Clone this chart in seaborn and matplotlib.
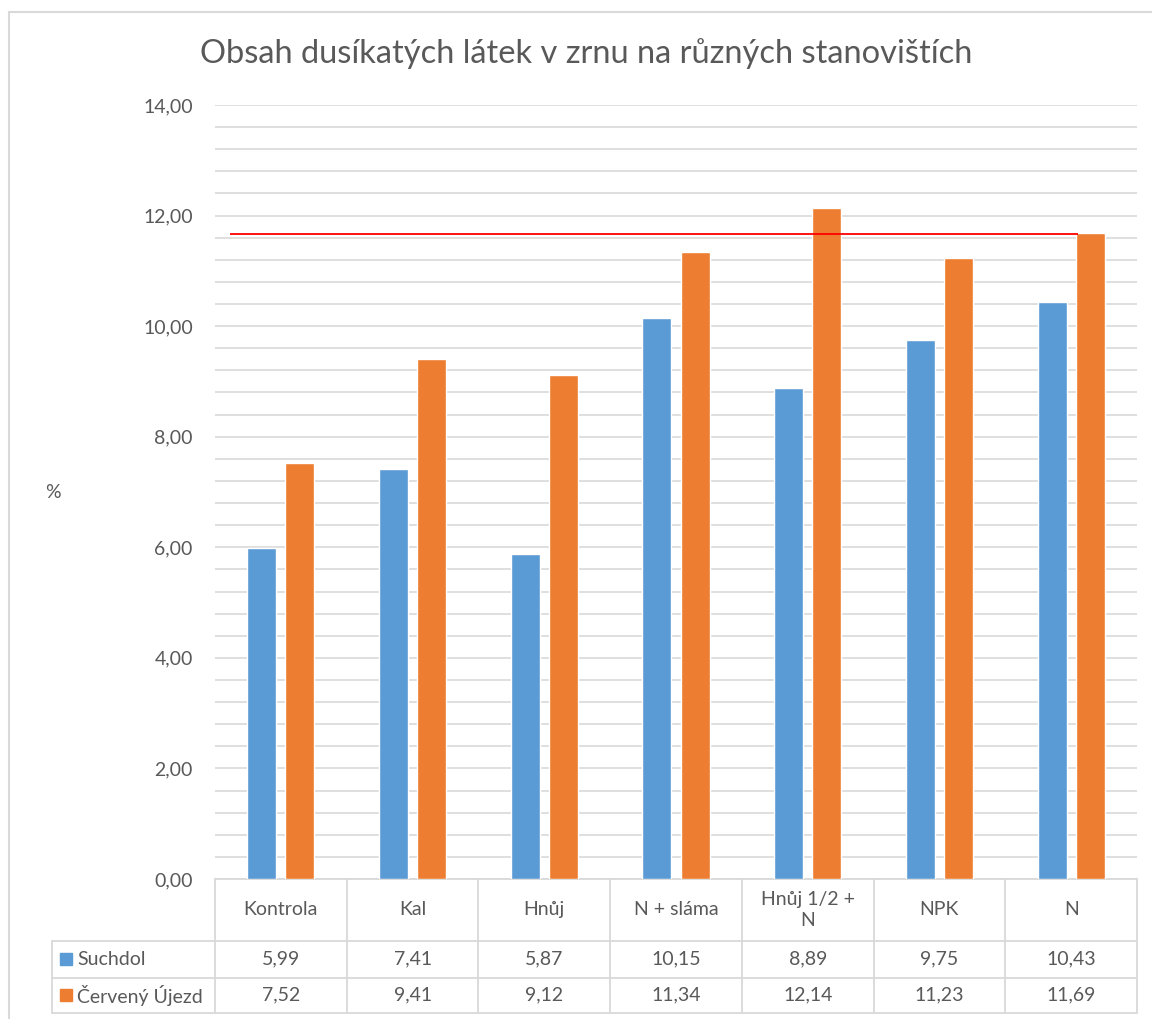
import matplotlib
matplotlib.use("Agg")
import matplotlib.pyplot as plt
import matplotlib.transforms as mtrans
from matplotlib.lines import Line2D
from matplotlib.patches import Rectangle
from matplotlib.ticker import MultipleLocator, FuncFormatter
import pandas as pd
import seaborn as sns

# ── Data ──────────────────────────────────────────────────────────────────────
categories = ["Kontrola", "Kal", "Hnůj", "N + sláma", "Hnůj 1/2 +\nN", "NPK", "N"]
suchdol = [5.99, 7.41, 5.87, 10.15, 8.89, 9.75, 10.43]
cerveny_ujezd = [7.52, 9.41, 9.12, 11.34, 12.14, 11.23, 11.69]
series_names = ["Suchdol", "Červený Újezd"]
ref_value = 11.66

df = pd.DataFrame({
    "kategorie": categories * 2,
    "hodnota": suchdol + cerveny_ujezd,
    "lokalita": [series_names[0]] * len(categories) + [series_names[1]] * len(categories),
})

BLUE, ORANGE, GRID, TEXT = "#5B9BD5", "#ED7D31", "#D9D9D9", "#595959"
FONT = ["Lato", "DejaVu Sans"]

sns.set_theme(style="white")
plt.rcParams["font.family"] = FONT
plt.rcParams["text.color"] = TEXT

W, H = 1152, 1019
fig = plt.figure(figsize=(W / 100, H / 100), dpi=100)
ax = fig.add_axes([215 / W, 1 - 879 / H, 922 / W, 774 / H])

sns.barplot(data=df, x="kategorie", y="hodnota", hue="lokalita",
            palette=[BLUE, ORANGE], width=0.58, gap=0.24, legend=False,
            saturation=1, ax=ax, zorder=3)

# reference line
ax.hlines(ref_value, -0.386, 6.053, color="#FF0000", lw=1.3, zorder=4)

ax.set_ylim(0, 14)
ax.set_xlim(-0.5, len(categories) - 0.5)
ax.yaxis.set_major_locator(MultipleLocator(2))
ax.yaxis.set_minor_locator(MultipleLocator(0.4))
ax.yaxis.set_major_formatter(FuncFormatter(lambda v, p: f"{v:.2f}".replace(".", ",")))
ax.grid(axis="y", which="both", color=GRID, lw=1.2, zorder=0)
ax.grid(axis="x", visible=False)
ax.tick_params(axis="y", which="both", length=0, pad=16, labelsize=14, labelcolor=TEXT)
ax.tick_params(axis="x", length=0, labelbottom=False)
for s in ax.spines.values():
    s.set_visible(False)
ax.set_xlabel("")
ax.set_ylabel("%", rotation=0, fontsize=14, color=TEXT, ha="center", va="center")
ax.yaxis.set_label_coords(-0.1757, 0.5)

# ── Data table under the axis ─────────────────────────────────────────────────
blend = mtrans.blended_transform_factory(ax.transData, ax.transAxes)
y_top, y_cat, y_r1, y_r2 = 0.0, -0.0801, -0.1275, -0.1731
x_left = -0.1768  # axes fraction
lw_t = 1.3

def tline(xs, ys, trans):
    ax.add_line(Line2D(xs, ys, transform=trans, color=GRID, lw=lw_t, clip_on=False, zorder=2))

tline([0, 1], [y_top, y_top], ax.transAxes)
for yy in (y_cat, y_r1, y_r2):
    tline([x_left, 1], [yy, yy], ax.transAxes)
tline([x_left, x_left], [y_cat, y_r2], ax.transAxes)
for k in range(len(categories) + 1):
    tline([k - 0.5, k - 0.5], [y_top, y_r2], blend)

rows = [(suchdol, BLUE, (y_cat + y_r1) / 2), (cerveny_ujezd, ORANGE, (y_r1 + y_r2) / 2)]
for i, cat in enumerate(categories):
    ax.text(i, (y_top + y_cat) / 2, cat, transform=blend, ha="center", va="center",
            fontsize=14, color=TEXT, linespacing=1.25)
for (vals, col, yc), name in zip(rows, series_names):
    for i, v in enumerate(vals):
        ax.text(i, yc, f"{v:.2f}".replace(".", ","), transform=blend, ha="center",
                va="center", fontsize=14, color=TEXT)
    ax.add_patch(Rectangle((-0.1685, yc - 0.0078), 0.0135, 0.0158, transform=ax.transAxes,
                           color=col, clip_on=False))
    ax.text(-0.1497, yc, name, transform=ax.transAxes, ha="left", va="center",
            fontsize=14, color=TEXT)

# ── Title & chart frame ───────────────────────────────────────────────────────
fig.text(586 / W, 1 - 63 / H, "Obsah dusíkatých látek v zrnu na různých stanovištích",
         ha="center", va="baseline", fontsize=23.5, color=TEXT)
fig.add_artist(Line2D([9 / W, 9 / W], [0, 1 - 12 / H], color=GRID, lw=1.5))
fig.add_artist(Line2D([9 / W, 1], [1 - 12 / H, 1 - 12 / H], color=GRID, lw=1.5))

fig.savefig("out.png", dpi=100)
